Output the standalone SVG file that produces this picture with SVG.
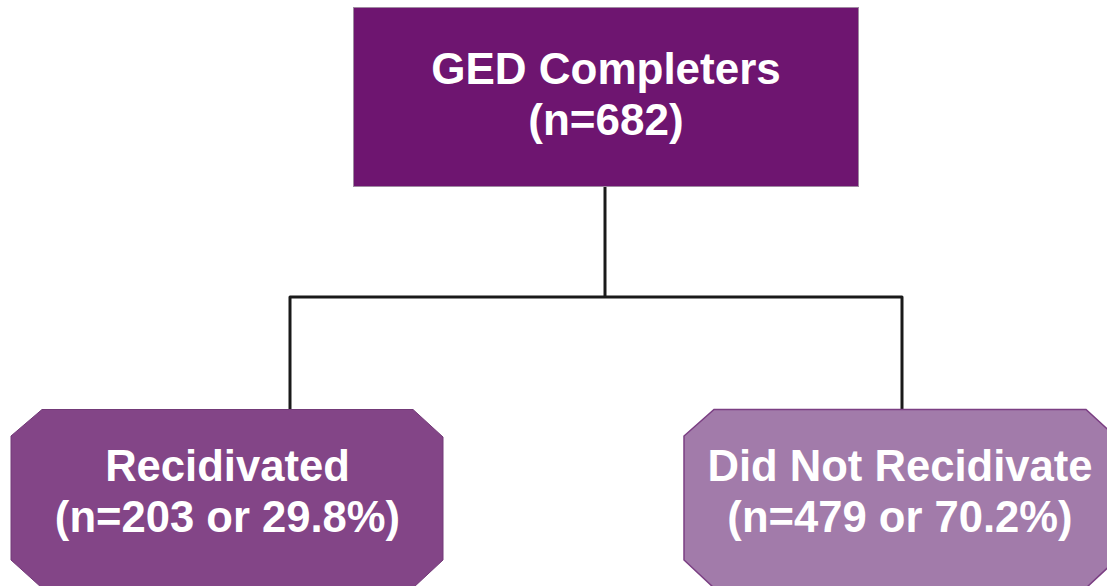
<svg xmlns="http://www.w3.org/2000/svg" width="1107" height="586" viewBox="0 0 1107 586">
<style>
text{font-family:"Liberation Sans",Arial,sans-serif;font-weight:bold;font-size:43.6px;fill:#ffffff;text-anchor:middle}
.top{font-size:44px}
.conn{fill:none;stroke:#1a1a1a;stroke-width:3;stroke-linejoin:round}
</style>
<rect width="1107" height="586" fill="#ffffff"/>
<g id="connectors">
<path class="conn" d="M605,187 V297"/>
<path class="conn" d="M290,410 V297 H902 V410"/>
</g>
<g id="ged">
<rect x="353.5" y="7.5" width="505" height="179" fill="#6e1570" stroke="#a08aa2" stroke-width="1"/>
<text class="top" x="606" y="84">GED Completers</text>
<text class="top" x="606" y="135">(n=682)</text>
</g>
<g id="recidivated">
<path d="M42,409.5 H413 L443,437 V560 L413,588 H42 L11,560 V436 Z" fill="#834587" stroke="#733a78" stroke-width="1"/>
<text x="227.5" y="481">Recidivated</text>
<text x="227.5" y="532">(n=203 or 29.8%)</text>
</g>
<g id="not-recidivated">
<path d="M714,409.5 H1086 L1116,437 V560 L1086,588 H714 L684,560 V436 Z" fill="#a27baa" stroke="#7b3f83" stroke-width="1.5"/>
<text x="900" y="481">Did Not Recidivate</text>
<text x="900" y="532">(n=479 or 70.2%)</text>
</g>
</svg>
